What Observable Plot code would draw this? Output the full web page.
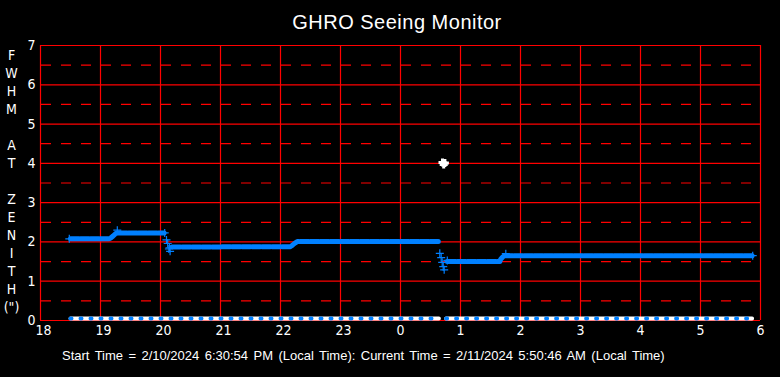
<!DOCTYPE html>
<html>
<head>
<meta charset="utf-8">
<script src="https://cdn.jsdelivr.net/npm/d3@7"></script>
<script src="https://cdn.jsdelivr.net/npm/@observablehq/plot@0.6"></script>
<style>
  html, body { margin: 0; padding: 0; background: #000; }
  #wrap { position: relative; width: 780px; height: 377px; background: #000; overflow: hidden; }
  #title { position: absolute; left: 0; top: 12px; width: 794px; text-align: center;
           font: 20px "Liberation Sans", Arial, sans-serif; line-height: 20px; color: #fff; letter-spacing: 0.5px; }
  #chart { position: absolute; left: 0; top: 35px; }
  #caption { position: absolute; left: 62px; top: 349px; white-space: nowrap; word-spacing: 1.8px;
             font: 13px "Liberation Sans", Arial, sans-serif; line-height: 13px; color: #fff; }
</style>
</head>
<body>
<div id="wrap">
  <div id="title">GHRO Seeing Monitor</div>
  <div id="chart"></div>
  <div id="caption">Start Time = 2/10/2024 6:30:54 PM (Local Time): Current Time = 2/11/2024 5:50:46 AM (Local Time)</div>
</div>
<script>
// ---- data (hours of local time; values past 24 are the next morning) ----
const xTicks = [18, 19, 20, 21, 22, 23, 24, 25, 26, 27, 28, 29, 30];
const xTickLabels = ["18", "19", "20", "21", "22", "23", "0", "1", "2", "3", "4", "5", "6"];
const yTicks = [0, 1, 2, 3, 4, 5, 6, 7];
const yTickLabels = ["0", "1", "2", "3", "4", "5", "6", "7"];
const yHalfTicks = [0.5, 1.5, 2.5, 3.5, 4.5, 5.5, 6.5];
const yLabelLines = ["F", "W", "H", "M", "\u00a0", "A", "T", "\u00a0", "Z", "E", "N", "I", "T", "H", "(\")"];

// FWHM (blue) – continuous runs, NaN breaks the line
const fwhmTime  = [18.50, 19.15, 19.17, 19.21, 19.25, 19.29, 20.06, NaN, 20.19, 22.17, 22.20, 22.24, 22.28, 24.63, NaN, 24.78, 25.655, 25.67, 25.70, 25.73, 29.86];
const fwhmValue = [2.08,  2.08,  2.10,  2.15,  2.21,  2.23,  2.23,  NaN, 1.87,  1.88,  1.92,  1.97,  2.01,  2.01,  NaN, 1.50,  1.50,   1.56,  1.61,  1.65,  1.65];
// FWHM isolated "+" samples
const fwhmPlusTime  = [18.48, 19.28, 20.07, 20.10, 20.12, 20.14, 20.16, 20.15, 24.655, 24.678, 24.695, 24.712, 24.728, 24.78, 25.755, 29.87];
const fwhmPlusValue = [2.08,  2.30,  2.23,  2.05,  1.96,  1.82,  1.76,  1.85,  1.71,   1.60,   1.48,   1.37,   1.29,   1.53,  1.70,   1.65];

// second (white) series
const whiteTime  = [18.50, 24.64, NaN, 24.76, 29.86];
const whiteValue = [0.05,  0.05,  NaN, 0.05,  0.05];
const whiteOutTime  = [24.70, 24.72, 24.74];
const whiteOutValue = [4.02,  3.97,  4.01];

// ---- tables ----
const fwhm = fwhmTime.map((t, i) => ({t, v: fwhmValue[i]}));
const fwhmPlus = fwhmPlusTime.map((t, i) => ({t, v: fwhmPlusValue[i]}));
const white = whiteTime.map((t, i) => ({t, v: whiteValue[i]}));
const whiteOut = whiteOutTime.map((t, i) => ({t, v: whiteOutValue[i]}));
const xLabelOf = new Map(xTicks.map((t, i) => [t, xTickLabels[i]]));
const yLabelOf = new Map(yTicks.map((t, i) => [t, yTickLabels[i]]));
const xTicksTwoDigit = xTicks.filter(t => xLabelOf.get(t).length > 1);
const xTicksOneDigit = xTicks.filter(t => xLabelOf.get(t).length === 1);

const plusSymbol = {
  draw(ctx, size) {
    const r = Math.sqrt(size / Math.PI);
    ctx.moveTo(-r, 0); ctx.lineTo(r, 0);
    ctx.moveTo(0, -r); ctx.lineTo(0, r);
  }
};

const RED = "#ff0000";
const BLUE = "#0080ff";
const tickFont = "'Liberation Sans Narrow', 'Arial Narrow', 'DejaVu Sans Condensed', sans-serif";

const chart = Plot.plot({
  width: 780,
  height: 305,
  marginLeft: 40,
  marginRight: 20,
  marginTop: 10,
  marginBottom: 20,
  style: {background: "#000", color: "#fff", fontFamily: tickFont, fontSize: "14px", overflow: "visible"},
  x: {domain: [18, 30]},
  y: {domain: [0, 7]},
  marks: [
    Plot.ruleY(yHalfTicks, {stroke: RED, strokeWidth: 1.2, strokeDasharray: "10,10", strokeDashoffset: -1}),
    Plot.ruleY(yTicks, {stroke: RED, strokeWidth: 1.2}),
    Plot.ruleX(xTicks, {stroke: RED, strokeWidth: 1.2}),
    Plot.axisX({ticks: xTicksTwoDigit, tickFormat: d => xLabelOf.get(d), tickSize: 0, tickPadding: 5, dx: 3, label: null, fontSize: 14, fill: "#fff"}),
    Plot.axisX({ticks: xTicksOneDigit, tickFormat: d => xLabelOf.get(d), tickSize: 0, tickPadding: 5, label: null, fontSize: 14, fill: "#fff"}),
    Plot.axisY({ticks: yTicks, tickFormat: d => yLabelOf.get(d), tickSize: 0, tickPadding: 5, label: null, fontSize: 14, fill: "#fff"}),
    Plot.text([yLabelLines.join("\n")], {frameAnchor: "left", dx: -29, dy: -3, text: d => d, lineHeight: 18 / 14, fontSize: 14, textAnchor: "middle", fill: "#fff"}),
    // white series along the bottom
    Plot.line(white, {x: "t", y: "v", stroke: "#fff", strokeWidth: 4}),
    Plot.line(white, {x: "t", y: "v", stroke: BLUE, strokeWidth: 4, strokeDasharray: "1,9"}),
    Plot.dot(whiteOut, {x: "t", y: "v", symbol: plusSymbol, r: 4, stroke: "#fff", strokeWidth: 3, fill: "none"}),
    // FWHM blue series
    Plot.line(fwhm, {x: "t", y: "v", stroke: BLUE, strokeWidth: 5, strokeDasharray: "8.5,1.5", curve: "linear"}),
    Plot.dot(fwhmPlus, {x: "t", y: "v", symbol: plusSymbol, r: 4, stroke: BLUE, strokeWidth: 1.2, fill: "none"})
  ]
});
document.getElementById("chart").appendChild(chart);
</script>
</body>
</html>
